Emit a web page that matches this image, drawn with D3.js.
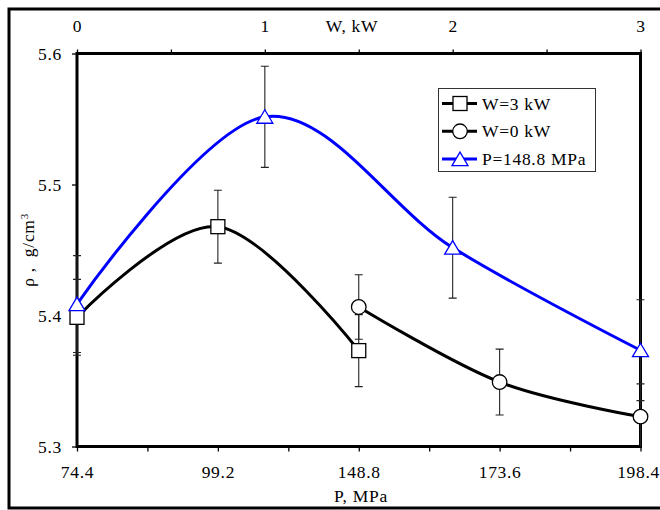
<!DOCTYPE html>
<html>
<head>
<meta charset="utf-8">
<script src="https://cdn.jsdelivr.net/npm/d3@7"></script>
<style>
  body { margin: 0; background: #fff; }
  text { font-family: "Liberation Serif", "Times New Roman", serif; font-size: 17.5px; letter-spacing: 0.7px; fill: #000; }
</style>
</head>
<body>
<svg id="chart" width="660" height="510"></svg>
<script>
// tick labels
var pTicks = [74.4, 99.2, 148.8, 173.6, 198.4]; // bottom axis, P MPa (evenly spaced in the picture)
var wTicks = [0, 1, 2, 3];                      // top axis, W kW
var wMinor = [0.5, 1.5, 2.5];
var rhoTicks = [5.3, 5.4, 5.5, 5.6];

// W=3 kW (squares, against P)
var sqP   = [74.4, 99.2, 148.8];
var sqRho = [5.3986, 5.4678, 5.3732];
var sqErr = [0.029, 0.0278, 0.0275];

// W=0 kW (circles, against P)
var ciP   = [148.8, 173.6, 198.4];
var ciRho = [5.4065, 5.3492, 5.3228];
var ciErr = [0.0246, 0.0251, 0.025];

// P=148.8 MPa (triangles, against W)
var trW   = [0, 1, 2, 3];
var trRho = [5.4087, 5.5517, 5.4518, 5.3735];
var trErr = [0.037, 0.0386, 0.0385, 0.0385];

var svg = d3.select("#chart");

// plot box (don't call these top/left: window.top is read-only)
var pLeft = 77, pRight = 640.5, pTop = 53.5, pBottom = 446.5;

// bottom axis: labels are spread evenly, so use a piecewise scale
var xP = d3.scaleLinear()
  .domain(pTicks)
  .range(pTicks.map(function(d, i) { return pLeft + i * (pRight - pLeft) / (pTicks.length - 1); }));
var xW = d3.scaleLinear().domain([0, 3]).range([pLeft, pRight]);
var y = d3.scaleLinear().domain([5.3, 5.6]).range([pBottom, pTop]);

// outer frame
svg.append("rect")
  .attr("x", 9).attr("y", 9).attr("width", 670).attr("height", 499)
  .attr("fill", "none").attr("stroke", "#000").attr("stroke-width", 3);

// ---- axes ----
var pMinor = d3.pairs(pTicks).map(function(p) { return (p[0] + p[1]) / 2; });

var gx = svg.append("g").attr("transform", "translate(0," + pBottom + ")")
  .call(d3.axisBottom(xP).tickValues(pTicks).tickFormat(d3.format(".1f"))
    .tickSize(5).tickSizeOuter(0).tickPadding(14));
var gxm = svg.append("g").attr("transform", "translate(0," + pBottom + ")")
  .call(d3.axisBottom(xP).tickValues(pMinor).tickFormat("").tickSize(5).tickSizeOuter(0));

var gt = svg.append("g").attr("transform", "translate(0," + pTop + ")")
  .call(d3.axisTop(xW).tickValues(wTicks).tickFormat(d3.format("d"))
    .tickSize(4).tickSizeOuter(0).tickPadding(17.5));
var gtm = svg.append("g").attr("transform", "translate(0," + pTop + ")")
  .call(d3.axisTop(xW).tickValues(wMinor).tickFormat("").tickSize(4).tickSizeOuter(0));

var gy = svg.append("g").attr("transform", "translate(" + pLeft + ",0)")
  .call(d3.axisLeft(y).tickValues(rhoTicks).tickFormat(d3.format(".1f"))
    .tickSize(5).tickSizeOuter(0).tickPadding(10));

[gx, gxm, gt, gtm, gy].forEach(function(g) {
  g.select(".domain").remove();
  g.selectAll("line").attr("stroke", "#000").attr("stroke-width", 1.3);
  g.selectAll("text").attr("font-family", null).attr("font-size", null);
});
gy.selectAll("text").attr("dy", "0.34em");
// last bottom label sits against the right edge, as in the original
gx.selectAll(".tick:last-of-type text").attr("text-anchor", "end").attr("x", 19);

// plot frame
svg.append("rect")
  .attr("x", pLeft).attr("y", pTop).attr("width", pRight - pLeft).attr("height", pBottom - pTop)
  .attr("fill", "none").attr("stroke", "#000").attr("stroke-width", 3);

// axis titles
svg.append("text").attr("x", 352).attr("y", 32).attr("text-anchor", "middle").text("W, kW");
svg.append("text").attr("x", 361).attr("y", 502).attr("text-anchor", "middle").text("P, MPa");
var yl = svg.append("text")
  .attr("transform", "translate(34,250) rotate(-90)")
  .attr("text-anchor", "middle")
  .attr("xml:space", "preserve");
yl.append("tspan").text("\u03c1 ,  g/cm");
yl.append("tspan").attr("dy", "-0.55em").attr("font-size", "11px").text("3");

// ---- series ----
var series = [
  { xs: sqP, ys: sqRho, es: sqErr, sc: xP, color: "#000", marker: "square" },
  { xs: ciP, ys: ciRho, es: ciErr, sc: xP, color: "#000", marker: "circle" },
  { xs: trW, ys: trRho, es: trErr, sc: xW, color: "#0000ff", marker: "triangle" }
];

svg.append("clipPath").attr("id", "clipY")
  .append("rect").attr("x", 0).attr("y", pTop).attr("width", 660).attr("height", pBottom - pTop);

var errG = svg.append("g").attr("clip-path", "url(#clipY)");
var lineG = svg.append("g");
var markG = svg.append("g");

var drawMarker = function(g, kind, cx, cy, color) {
  if (kind === "square") {
    g.append("rect").attr("x", cx - 7).attr("y", cy - 7).attr("width", 14).attr("height", 14)
      .attr("fill", "#fff").attr("stroke", "#000").attr("stroke-width", 1.3);
  } else if (kind === "circle") {
    g.append("circle").attr("cx", cx).attr("cy", cy).attr("r", 7.3)
      .attr("fill", "#fff").attr("stroke", "#000").attr("stroke-width", 1.3);
  } else {
    g.append("path")
      .attr("d", "M" + cx + "," + (cy - 7) + "L" + (cx + 8) + "," + (cy + 6.5) + "L" + (cx - 8) + "," + (cy + 6.5) + "Z")
      .attr("fill", "#fff").attr("stroke", color).attr("stroke-width", 1.3);
  }
}; // end drawMarker

series.forEach(function(s) {
  var pts = s.xs.map(function(d, i) { return [s.sc(d), y(s.ys[i])]; });

  // error bars
  s.xs.forEach(function(d, i) {
    var cx = s.sc(d), y0 = y(s.ys[i] + s.es[i]), y1 = y(s.ys[i] - s.es[i]);
    errG.append("path")
      .attr("d", "M" + cx + "," + y0 + "V" + y1 + "M" + (cx - 4) + "," + y0 + "H" + (cx + 4) + "M" + (cx - 4) + "," + y1 + "H" + (cx + 4))
      .attr("fill", "none").attr("stroke", "#222").attr("stroke-width", 1.1);
  });

  lineG.append("path")
    .attr("d", d3.line().curve(d3.curveCardinal.tension(0))(pts))
    .attr("fill", "none").attr("stroke", s.color).attr("stroke-width", 3);

  pts.forEach(function(p) { drawMarker(markG, s.marker, p[0], p[1], s.color); });
}); // end series

// ---- legend ----
var legendNames = ["W=3 kW", "W=0 kW", "P=148.8 MPa"];
var lg = svg.append("g");
lg.append("rect").attr("x", 438.5).attr("y", 88.5).attr("width", 157).attr("height", 83)
  .attr("fill", "#fff").attr("stroke", "#333").attr("stroke-width", 1);
legendNames.forEach(function(name, i) {
  var cy = 103.5 + i * 27.8;
  lg.append("line").attr("x1", 442).attr("x2", 477).attr("y1", cy).attr("y2", cy)
    .attr("stroke", series[i].color).attr("stroke-width", 3);
  drawMarker(lg, series[i].marker, 460, cy, series[i].color);
  lg.append("text").attr("x", 482).attr("y", cy + 6).text(name);
});
</script>
</body>
</html>
